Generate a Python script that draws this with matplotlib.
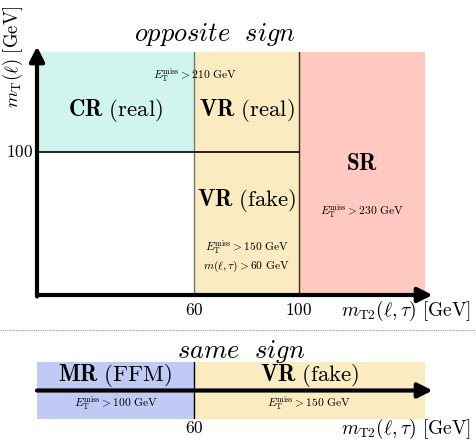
import matplotlib
matplotlib.use('Agg')
import matplotlib.pyplot as plt
from matplotlib.patches import Rectangle
from matplotlib.lines import Line2D

plt.rcParams['mathtext.fontset'] = 'cm'
plt.rcParams['font.family'] = 'DejaVu Serif'

# region boundaries [GeV]
mt2_cut = [60, 100]
mt2_max = 148
mt_cut = 100
mt_max = 170

os_regions = ['CR', 'VR', 'VR', 'SR']
os_tags = ['real', 'real', 'fake', '']
os_met = [210, 150, 230]
mll_cut = 60

ss_regions = ['MR', 'VR']
ss_tags = ['FFM', 'fake']
ss_met = [100, 150]

c_cr = '#d0f5ee'
c_vr = '#faecc0'
c_sr = '#ffc8c0'
c_mr = '#bfcaf5'

W, H = 476, 440
fig = plt.figure(figsize=(W / 100, H / 100), dpi=100)

def px_axes(x0, y0, x1, y1):
    # axes placed by pixel box (top-left origin)
    return fig.add_axes([x0 / W, 1 - y1 / H, (x1 - x0) / W, (y1 - y0) / H])

big = dict(fontsize=16.5, ha='center', va='center')
small = dict(fontsize=8.3, ha='center', va='center')
tick = dict(fontsize=12.5, ha='center', va='center')

def region_label(name, tag):
    if tag:
        return r'$\mathbf{%s}\ \mathrm{(%s)}$' % (name, tag)
    return r'$\mathbf{%s}$' % name

def met(v):
    return r'$E_{\mathrm{T}}^{\mathrm{miss}} > %d\ \mathrm{GeV}$' % v

xlab = r'$m_{\mathrm{T2}}(\ell,\tau)\ [\mathrm{GeV}]$'
arrow = dict(arrowstyle='-|>', lw=3, color='black', mutation_scale=22,
             shrinkA=0, shrinkB=0)

# ---- opposite sign ----
ax = px_axes(37, 45, 430, 295)
ax.set_xlim(0, 150)
ax.set_ylim(0, 175)
ax.axis('off')

x1, x2 = mt2_cut
ax.add_patch(Rectangle((0, mt_cut), x1, mt_max - mt_cut, fc=c_cr, ec='none'))
ax.add_patch(Rectangle((x1, 0), x2 - x1, mt_max, fc=c_vr, ec='none'))
ax.add_patch(Rectangle((x2, 0), mt2_max - x2, mt_max, fc=c_sr, ec='none'))
ax.plot([x1, x1], [0, mt_max], color='#777766', lw=1)
ax.plot([x2, x2], [0, mt_max], color='#333322', lw=1)
ax.plot([0, x2], [mt_cut, mt_cut], color='black', lw=1.2)

ax.annotate('', xy=(151, 0), xytext=(0, 0), annotation_clip=False, arrowprops=arrow)
ax.annotate('', xy=(0, 174), xytext=(0, -1), annotation_clip=False, arrowprops=arrow)

cx_cr = x1 / 2
cx_vr = (x1 + x2) / 2
cx_sr = (x2 + mt2_max) / 2
ax.text(cx_cr, 129, region_label(os_regions[0], os_tags[0]), **big)
ax.text(cx_vr, 129, region_label(os_regions[1], os_tags[1]), **big)
ax.text(x1 + 0.5, 154, met(os_met[0]), **small)
ax.text(cx_vr, 66, region_label(os_regions[2], os_tags[2]), **big)
ax.text(cx_vr, 33.5, met(os_met[1]), **small)
ax.text(cx_vr, 20, r'$m(\ell,\tau) > %d\ \mathrm{GeV}$' % mll_cut, **small)
ax.text(cx_sr, 92, region_label(os_regions[3], os_tags[3]), **big)
ax.text(cx_sr, 59, met(os_met[2]), **small)

ax.text(x1, -11, r'$60$', **tick)
ax.text(x2, -11, r'$100$', **tick)
ax.text(-6.5, mt_cut, r'$100$', **tick)
ax.text(165.5, -11, xlab, fontsize=14, ha='right', va='center')
ax.text(-9, 167, r'$m_{\mathrm{T}}(\ell)\ [\mathrm{GeV}]$', fontsize=13.5,
        rotation=90, ha='center', va='center')
ax.text(68, 182, r'$\mathit{opposite\ \ sign}$', fontsize=19, ha='center', va='center')

# separator
fig.add_artist(Line2D([0, 1], [1 - 330 / H, 1 - 330 / H], color='#999999', lw=0.8,
                      ls=(0, (1, 1))))

# ---- same sign ----
bx = px_axes(37, 362, 430, 419)
bx.set_xlim(0, 150)
bx.set_ylim(0, 1)
bx.axis('off')

bx.add_patch(Rectangle((0, 0), x1, 1, fc=c_mr, ec='none'))
bx.add_patch(Rectangle((x1, 0), mt2_max - x1, 1, fc=c_vr, ec='none'))
bx.plot([x1, x1], [0, 1], color='black', lw=1)
bx.annotate('', xy=(151, 0.5), xytext=(0, 0.5), annotation_clip=False, arrowprops=arrow)

cx_mr = x1 / 2
cx_vf = (x1 + mt2_max) / 2
bx.text(cx_mr, 0.76, region_label(ss_regions[0], ss_tags[0]), **big)
bx.text(cx_vf, 0.76, region_label(ss_regions[1], ss_tags[1]), **big)
bx.text(cx_mr, 0.27, met(ss_met[0]), **small)
bx.text(cx_vf, 0.27, met(ss_met[1]), **small)
bx.text(x1, -0.17, r'$60$', **tick)
bx.text(165.5, -0.18, xlab, fontsize=14, ha='right', va='center')
bx.text(78, 1.18, r'$\mathit{same\ \ sign}$', fontsize=19, ha='center', va='center')

fig.savefig('out.png', dpi=100)
